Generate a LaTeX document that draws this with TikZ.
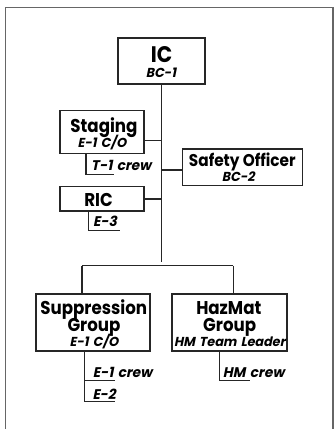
\documentclass[tikz,border=0pt]{standalone}
\usepackage{fontspec}
\setmainfont{Poppins}[FakeStretch=0.9]
\newfontfamily\obl{Poppins}[FakeSlant=0.2,FakeStretch=0.98,WordSpace=1.5]
\begin{document}
\begin{tikzpicture}[x=1pt,y=-1pt,
  frame/.style={draw=black!60,line width=1.4pt},
  box/.style={draw=black!85,line width=1.1pt,inner sep=0pt},
  wire/.style={draw=black!85,line width=1.1pt},
  big/.style={anchor=base,inner sep=0pt,font=\fontsize{22.5}{22.5}\selectfont\bfseries},
  head/.style={anchor=base,inner sep=0pt,font=\fontsize{18.5}{18.5}\selectfont\bfseries},
  mid/.style={anchor=base,inner sep=0pt,font=\fontsize{17}{17}\selectfont\bfseries},
  sub/.style={anchor=base,inner sep=0pt,font=\fontsize{13}{13}\selectfont\obl\bfseries},
  crew/.style={anchor=base west,inner sep=0pt,font=\fontsize{14}{14}\selectfont\obl\bfseries}]
\useasboundingbox (0,0) rectangle (334,429);
% outer frame, open at the bottom
\draw[frame] (5.5,430) -- (5.5,7.3) -- (332.8,7.3) -- (332.8,430);

% boxes
\node[box,minimum width=87pt,minimum height=46pt] (ic) at (161.5,61) {};
\node[box,minimum width=84pt,minimum height=43.3pt] (staging) at (102,131.7) {};
\node[box,minimum width=120pt,minimum height=36.7pt] (safety) at (242.2,167.3) {};
\node[box,minimum width=84pt,minimum height=24.3pt] (ric) at (102,198.8) {};
\node[box,minimum width=114pt,minimum height=57pt] (supp) at (93,322.5) {};
\node[box,minimum width=115pt,minimum height=57pt] (haz) at (229.5,322.5) {};

% box texts
\node[big] (ict) at (161.5,62.7) {IC};
\node[sub] (ics) at (161,77.3) {BC-1};
\node[head] (stt) at (104,132.5) {Staging};
\node[sub] (sts) at (102,147) {E-1 C/O};
\node[mid] (sft) at (242.3,166) {Safety Officer};
\node[sub] (sfs) at (238.3,181.7) {BC-2};
\node[head] (rict) at (98.5,206) {RIC};
\node[head] (sut1) at (93.7,314.3) {Suppression};
\node[head] (sut2) at (94,331.3) {Group};
\node[sub] (sus) at (94,346) {E-1 C/O};
\node[head] (hzt1) at (228.8,314.3) {HazMat};
\node[head] (hzt2) at (229.7,331.3) {Group};
\node[sub] (hzs) at (229.7,346) {HM Team Leader};

% trunk and branches
\coordinate (tend) at (ic.south |- 0,261.5);
\coordinate (j1) at (ic.south |- 0,140.7);
\coordinate (j2) at (ic.south |- 0,170);
\coordinate (j3) at (ic.south |- 0,199);
\draw[wire] (ic.south) -- (tend);
\draw[wire] (staging.east |- j1) -- (j1);
\draw[wire] (j2) -- (safety.west |- j2);
\draw[wire] (ric.east |- j3) -- (j3);

% group bar
\coordinate (bl) at (82,265.7);
\coordinate (br) at (233.3,265.7);
\draw[wire] (bl) -- (br);
\draw[wire] (bl) -- (bl |- supp.north);
\draw[wire] (br) -- (br |- haz.north);

% crew tabs
\coordinate (t1) at (86,174.5);
\draw[wire] (t1 |- staging.south) -- (t1) -- ++(28,0);
\node[crew] (t1t) at (91,170) {T-1 crew};

\coordinate (e3) at (88.3,230.5);
\draw[wire] (e3 |- ric.south) -- (e3) -- ++(31.7,0);
\node[crew] (e3t) at (93,226) {E-3};

\coordinate (e1) at (84.3,380.7);
\coordinate (e2) at (84.3,401.7);
\draw[wire] (e1 |- supp.south) -- (e2) -- ++(30.7,0);
\draw[wire] (e1) -- ++(30.7,0);
\node[crew] (e1t) at (92.7,377.3) {E-1 crew};
\node[crew] (e2t) at (92.3,399.3) {E-2};

\coordinate (hm) at (219.3,380.7);
\draw[wire] (hm |- haz.south) -- (hm) -- ++(30.7,0);
\node[crew] (hmt) at (222.7,377.3) {HM crew};
\end{tikzpicture}
\end{document}
